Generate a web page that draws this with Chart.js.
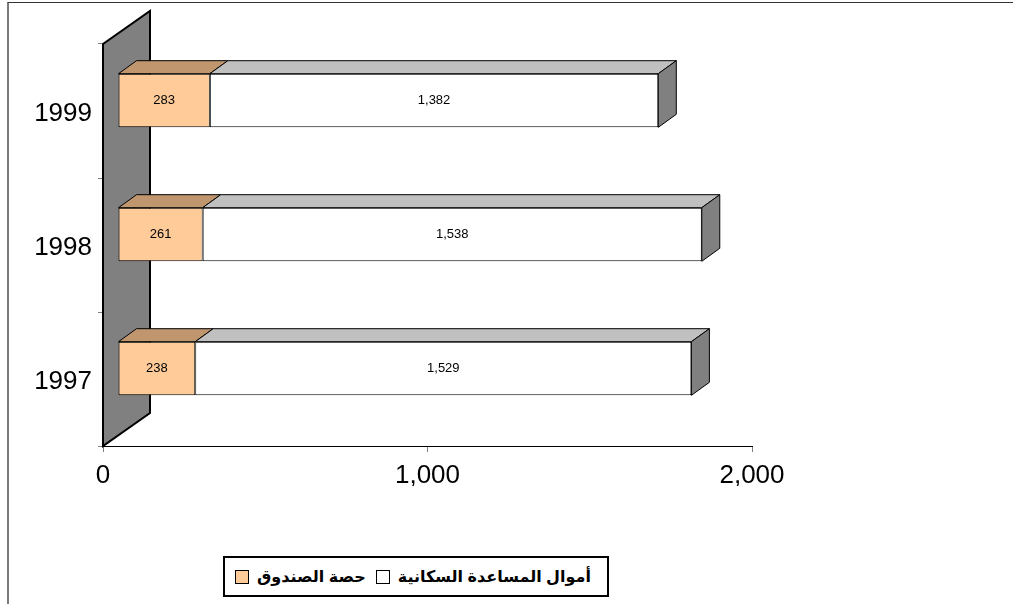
<!DOCTYPE html>
<html><head><meta charset="utf-8">
<script src="https://cdn.jsdelivr.net/npm/chart.js@4/dist/chart.umd.min.js"></script>
<style>
html,body{margin:0;padding:0;background:#fff;overflow:hidden;}
#wrap{position:relative;width:1013px;height:604px;overflow:hidden;}
#frame{position:absolute;left:7px;top:2px;width:1100px;height:700px;border-top:1px solid #333;border-left:2px solid #7a7a7a;}
canvas{position:absolute;left:0;top:0;}
#legend{position:absolute;left:223px;top:556px;width:382px;height:37px;border:2px solid #000;display:flex;align-items:center;font-family:Arial,"DejaVu Sans",sans-serif;font-weight:bold;font-size:16px;direction:ltr;background:#fff;}
#legend .item{display:flex;align-items:center;}
#legend .box{width:12px;height:12px;border:1px solid #000;margin:0 8px 0 10px;}
</style></head>
<body><div id="wrap"><div id="frame"></div><canvas id="c" width="1013" height="604"></canvas><div id="legend"></div></div>
<script>
const years = ['1997', '1998', '1999'];
const fundShare = [238, 261, 283];
const populationFunds = [1529, 1538, 1382];
const xTicks = [0, 1000, 2000];
const seriesNames = ['حصة الصندوق', 'أموال المساعدة السكانية'];
const frontColors = ['#FFCC99', '#FFFFFF'];
const topColors = ['#C0966E', '#C0C0C0'];
const sideColors = ['#A07850', '#808080'];

const DX = 18, DY = 13;          // bar depth
const SHIFT_X = 15, SHIFT_Y = -10.5; // bar plane offset
const WALL_DX = 47, WALL_DY = 33;

const threeD = {
  id: 'threeD',
  beforeDatasetsDraw(chart) {
    const {ctx, chartArea: a} = chart;
    ctx.save();
    ctx.beginPath();
    ctx.moveTo(a.left, a.bottom);
    ctx.lineTo(a.left, a.top);
    ctx.lineTo(a.left + WALL_DX, a.top - WALL_DY);
    ctx.lineTo(a.left + WALL_DX, a.bottom - WALL_DY);
    ctx.closePath();
    ctx.fillStyle = '#808080';
    ctx.fill();
    ctx.lineWidth = 2;
    ctx.strokeStyle = '#000';
    ctx.lineJoin = 'miter';
    ctx.stroke();
    ctx.restore();
    ctx.save();
    ctx.translate(SHIFT_X, SHIFT_Y);
  },
  afterDatasetsDraw(chart) {
    const ctx = chart.ctx;
    const n = chart.data.datasets.length;
    ctx.lineWidth = 1;
    ctx.strokeStyle = '#000';
    for (let d = 0; d < n; d++) {
      const meta = chart.getDatasetMeta(d);
      meta.data.forEach(el => {
        const p = el.getProps(['x', 'y', 'base', 'height'], true);
        const x0 = Math.min(p.base, p.x), x1 = Math.max(p.base, p.x);
        const yt = p.y - p.height / 2, yb = p.y + p.height / 2;
        ctx.beginPath();
        ctx.moveTo(x0, yt);
        ctx.lineTo(x0 + DX, yt - DY);
        ctx.lineTo(x1 + DX, yt - DY);
        ctx.lineTo(x1, yt);
        ctx.closePath();
        ctx.fillStyle = topColors[d];
        ctx.fill();
        ctx.stroke();
        if (d === n - 1) {
          ctx.beginPath();
          ctx.moveTo(x1, yt);
          ctx.lineTo(x1 + DX, yt - DY);
          ctx.lineTo(x1 + DX, yb - DY);
          ctx.lineTo(x1, yb);
          ctx.closePath();
          ctx.fillStyle = sideColors[d];
          ctx.fill();
          ctx.stroke();
        }
      });
    }
    ctx.fillStyle = '#000';
    ctx.font = '13px Arial, "Liberation Sans", sans-serif';
    ctx.textAlign = 'center';
    ctx.textBaseline = 'middle';
    for (let d = 0; d < n; d++) {
      const meta = chart.getDatasetMeta(d);
      meta.data.forEach((el, i) => {
        const p = el.getProps(['x', 'y', 'base'], true);
        const v = chart.data.datasets[d].data[i];
        ctx.fillText(v.toLocaleString('en-US'), (p.base + p.x) / 2, p.y);
      });
    }
    ctx.restore();
  }
};

const axisFont = 'Arial, "Liberation Sans", sans-serif';

new Chart(document.getElementById('c').getContext('2d'), {
  type: 'bar',
  data: {
    labels: years,
    datasets: [
      {label: seriesNames[0], data: fundShare, backgroundColor: frontColors[0], borderColor: '#000', borderWidth: 1, borderSkipped: false, clip: false, barPercentage: 0.4, categoryPercentage: 1},
      {label: seriesNames[1], data: populationFunds, backgroundColor: frontColors[1], borderColor: '#000', borderWidth: 1, borderSkipped: false, clip: false, barPercentage: 0.4, categoryPercentage: 1}
    ]
  },
  options: {
    indexAxis: 'y',
    responsive: false,
    animation: false,
    layout: {padding: {left: 0, right: 261, top: 44, bottom: 118}},
    plugins: {legend: {display: false}, tooltip: {enabled: false}},
    scales: {
      x: {
        stacked: true, min: 0, max: 2000,
        afterBuildTicks: s => { s.ticks = xTicks.map(v => ({value: v})); },
        afterFit: s => { s.height = 40; },
        grid: {drawOnChartArea: false, drawTicks: true, tickLength: 6, color: '#808080'},
        border: {color: '#000', width: 1},
        ticks: {font: {family: axisFont, size: 26}, color: '#000', padding: 8, maxRotation: 0,
          callback: v => Number(v).toLocaleString('en-US')}
      },
      y: {
        stacked: true, reverse: true,
        afterFit: s => { s.width = 103; },
        grid: {offset: true, drawOnChartArea: false, tickLength: 5, color: '#808080'},
        border: {display: false},
        ticks: {font: {family: axisFont, size: 26}, color: '#000', padding: 6, labelOffset: 3}
      }
    }
  },
  plugins: [threeD]
});

const legend = document.getElementById('legend');
seriesNames.forEach((name, i) => {
  const item = document.createElement('div');
  item.className = 'item';
  const box = document.createElement('span');
  box.className = 'box';
  box.style.background = frontColors[i];
  const txt = document.createElement('span');
  txt.textContent = name;
  item.appendChild(box);
  item.appendChild(txt);
  legend.appendChild(item);
});
</script>
</body></html>
